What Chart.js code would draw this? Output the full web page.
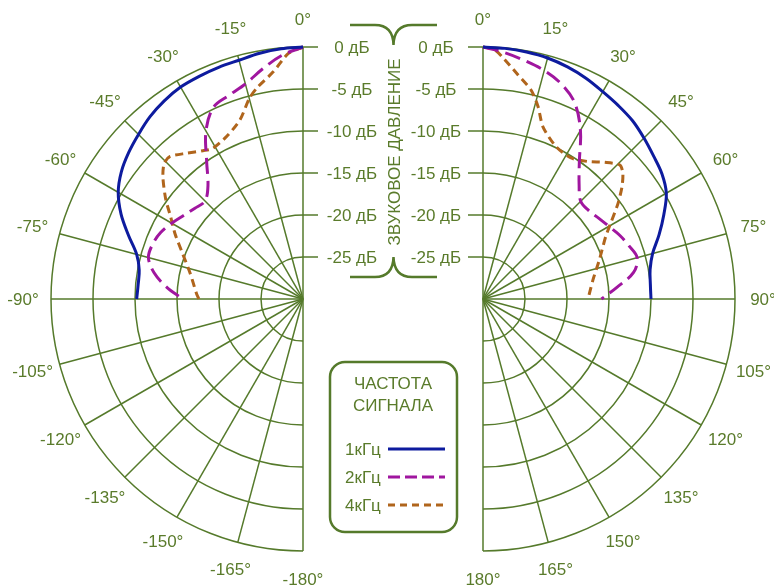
<!DOCTYPE html>
<html>
<head>
<meta charset="utf-8">
<script src="https://cdn.jsdelivr.net/npm/chart.js@4"></script>
<style>
  body { margin: 0; background: #fff; }
  #wrap { width: 774px; height: 588px; }
</style>
</head>
<body>
<div id="wrap"><canvas id="polar" width="774" height="588"></canvas></div>
<script>
// уровни (дБ) по углам (град)
const ang1kL = [0, 5, 10, 15, 20, 25, 30, 35, 40, 45, 50, 55, 60, 65, 70, 75, 80, 85, 90];
const db1kL = [0, -0.1, -0.3, -0.57, -0.65, -0.75, -0.86, -1.2, -1.67, -2.3, -2.9, -3.6, -4.6, -6.1, -7.9, -9.5, -10.2, -10.3, -10.2];
const ang2kL = [0, 5, 10, 15, 20, 25, 30, 35, 40, 45, 50, 55, 60, 65, 70, 75, 80, 85, 90];
const db2kL = [0, -0.9, -2.2, -3.5, -4.2, -4.8, -6.9, -10.0, -12.4, -13.5, -13.2, -12.65, -11.95, -11.3, -10.95, -10.95, -12.0, -13.7, -15.7];
const ang4kL = [0, 3.4, 7.4, 12.4, 15, 19.4, 25, 31, 34, 38.6, 43, 45.7, 49, 54, 58, 63, 69, 77, 87, 90];
const db4kL = [0, -0.7, -2.7, -4.3, -5.3, -7.4, -8.6, -9.1, -8.7, -7.8, -6.8, -6.9, -7.9, -9.8, -11.4, -12.9, -14.6, -16.2, -17.3, -17.6];

const ang1kR = [0, 5, 10, 15, 20, 25, 30, 35, 40, 45, 50, 55, 60, 65, 70, 75, 80, 85, 90];
const db1kR = [0, -0.05, -0.15, -0.3, -0.6, -1.0, -1.5, -1.9, -2.3, -2.9, -3.5, -4.0, -4.8, -6.25, -7.7, -9.1, -9.8, -10.0, -10.0];
const ang2kR = [0, 5, 10, 15, 20, 25, 30, 35, 40, 45, 50, 55, 60, 65, 70, 75, 80, 85, 90];
const db2kR = [0, -0.55, -1.2, -1.85, -2.75, -4.2, -6.8, -10.0, -12.2, -13.55, -13.6, -13.2, -12.7, -12.05, -11.5, -11.0, -11.8, -14.0, -15.9];
const ang4kR = [0, 2.7, 5.2, 8.9, 13, 16, 19.2, 25.7, 32, 37.4, 41.7, 45.6, 48, 51, 54.7, 59, 63, 71.5, 80, 90];
const db4kR = [0, -0.3, -1.4, -3.0, -4.5, -6.2, -8.3, -9.9, -10.2, -9.4, -8.2, -7.2, -7.6, -8.7, -10.3, -12.2, -13.6, -15.4, -16.7, -17.5];

const dbTicks = [0, -5, -10, -15, -20, -25];
const angleTicks = [0, 15, 30, 45, 60, 75, 90, 105, 120, 135, 150, 165, 180];
const freqLabels = ['1кГц', '2кГц', '4кГц'];
const axisTitle = 'ЗВУКОВОЕ ДАВЛЕНИЕ';
const legendTitle = ['ЧАСТОТА', 'СИГНАЛА'];

const RANGE = 30;          // центр круга = -30 дБ
const PX = 8.4;            // пикселей на 1 дБ
const CX_L = -90 / PX, CX_R = 90 / PX;
const LINE = '#557a2b';
const TEXT = '#5a7b2b';
const FONT = '17px "Liberation Sans", Arial, sans-serif';

const colors = ['#0d1b9e', '#a0169f', '#b0651c'];
const dashes = [[], [16, 7], [8, 5]];
const legendDashes = [[], [12, 5], [7, 5]];

function polarPoints(cx, sign, angles, levels) {
  return angles.map((a, i) => {
    const t = a * Math.PI / 180;
    const r = levels[i] + RANGE;
    return { x: cx + sign * r * Math.sin(t), y: r * Math.cos(t) };
  });
}

function curve(label, i, pts, tension) {
  return {
    label, data: pts, showLine: true, pointRadius: 0,
    borderColor: colors[i], borderWidth: 3, borderDash: dashes[i],
    tension, fill: false,
  };
}

const polarGrid = {
  id: 'polarGrid',
  beforeDatasetsDraw(chart) {
    const { ctx, scales: { x, y } } = chart;
    const unit = x.getPixelForValue(1) - x.getPixelForValue(0);
    const cy = y.getPixelForValue(0);
    const R = RANGE * unit;
    ctx.save();
    ctx.strokeStyle = LINE;
    ctx.lineWidth = 1.5;
    [[CX_L, -1], [CX_R, 1]].forEach(([c, sign]) => {
      const cx = x.getPixelForValue(c);
      dbTicks.forEach(d => {
        ctx.beginPath();
        if (sign > 0) ctx.arc(cx, cy, (d + RANGE) * unit, -Math.PI / 2, Math.PI / 2);
        else ctx.arc(cx, cy, (d + RANGE) * unit, Math.PI / 2, Math.PI * 1.5);
        ctx.stroke();
      });
      angleTicks.forEach(a => {
        const t = a * Math.PI / 180;
        ctx.beginPath();
        ctx.moveTo(cx, cy);
        ctx.lineTo(cx + sign * R * Math.sin(t), cy - R * Math.cos(t));
        ctx.stroke();
      });
      // подписи углов
      ctx.fillStyle = TEXT;
      ctx.font = FONT;
      ctx.textAlign = 'center';
      ctx.textBaseline = 'middle';
      const lr = 280;
      angleTicks.forEach(a => {
        const t = a * Math.PI / 180;
        const txt = (sign < 0 && a > 0 ? '-' : '') + a + '°';
        ctx.fillText(txt, cx + sign * lr * Math.sin(t), cy - lr * Math.cos(t) + 1);
      });
      // короткие риски шкалы дБ
      dbTicks.forEach(d => {
        const yy = cy - (d + RANGE) * unit;
        ctx.beginPath();
        ctx.moveTo(cx, yy);
        ctx.lineTo(cx - sign * 15, yy);
        ctx.stroke();
      });
    });

    // шкала дБ посередине
    const lcx = x.getPixelForValue(CX_L), rcx = x.getPixelForValue(CX_R);
    const mid = (lcx + rcx) / 2;
    dbTicks.forEach(d => {
      const yy = cy - (d + RANGE) * unit + 1;
      ctx.fillText(d + ' дБ', mid - 41, yy);
      ctx.fillText(d + ' дБ', mid + 43, yy);
    });
    const yTop = cy - R, yBot = cy - 5 * unit;
    ctx.save();
    ctx.translate(mid + 1, (yTop + yBot) / 2);
    ctx.rotate(-Math.PI / 2);
    ctx.fillText(axisTitle, 0, 1);
    ctx.restore();

    // фигурные скобки
    ctx.lineWidth = 2.5;
    const brace = (y0, tip) => {
      ctx.beginPath();
      ctx.moveTo(mid - 43, y0);
      ctx.lineTo(mid - 18, y0);
      ctx.quadraticCurveTo(mid, y0, mid + 0.5, tip);
      ctx.quadraticCurveTo(mid + 1, y0, mid + 19, y0);
      ctx.lineTo(mid + 44, y0);
      ctx.stroke();
    };
    brace(yTop - 22, yTop - 2);
    brace(yBot + 20, yBot);
    ctx.restore();
  },
  afterDraw(chart) {
    const { ctx, scales: { x } } = chart;
    const mid = (x.getPixelForValue(CX_L) + x.getPixelForValue(CX_R)) / 2;
    ctx.save();
    ctx.strokeStyle = LINE;
    ctx.lineWidth = 2.5;
    ctx.beginPath();
    ctx.roundRect(mid - 63, 362, 127, 170, 15);
    ctx.stroke();
    ctx.fillStyle = TEXT;
    ctx.font = FONT;
    ctx.textAlign = 'center';
    ctx.textBaseline = 'middle';
    ctx.fillText(legendTitle[0], mid, 384);
    ctx.fillText(legendTitle[1], mid, 406);
    ctx.textAlign = 'left';
    freqLabels.forEach((lab, i) => {
      const yy = 449 + i * 28;
      ctx.fillText(lab, mid - 48, yy + 1);
      ctx.strokeStyle = colors[i];
      ctx.lineWidth = 3;
      ctx.setLineDash(legendDashes[i]);
      ctx.beginPath();
      ctx.moveTo(mid - 5, yy);
      ctx.lineTo(mid + 52, yy);
      ctx.stroke();
    });
    ctx.restore();
  }
};

new Chart(document.getElementById('polar'), {
  type: 'scatter',
  data: {
    datasets: [
      curve('1кГц', 0, polarPoints(CX_L, -1, ang1kL, db1kL), 0.35),
      curve('2кГц', 1, polarPoints(CX_L, -1, ang2kL, db2kL), 0.35),
      curve('4кГц', 2, polarPoints(CX_L, -1, ang4kL, db4kL), 0.25),
      curve('1кГц', 0, polarPoints(CX_R, 1, ang1kR, db1kR), 0.35),
      curve('2кГц', 1, polarPoints(CX_R, 1, ang2kR, db2kR), 0.35),
      curve('4кГц', 2, polarPoints(CX_R, 1, ang4kR, db4kR), 0.25),
    ],
  },
  options: {
    responsive: false,
    animation: false,
    layout: { padding: 0 },
    plugins: { legend: { display: false }, tooltip: { enabled: false } },
    scales: {
      x: { type: 'linear', display: false, min: -393 / PX, max: 381 / PX },
      y: { type: 'linear', display: false, min: -289 / PX, max: 299 / PX },
    },
  },
  plugins: [polarGrid],
});
</script>
</body>
</html>
